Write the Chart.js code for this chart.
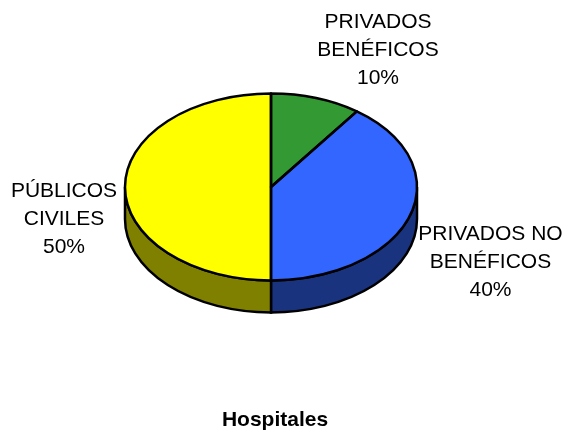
<!DOCTYPE html>
<html>
<head>
<meta charset="utf-8">
<style>body{margin:0;background:#fff}</style>
<script src="https://cdn.jsdelivr.net/npm/chart.js@4"></script>
</head>
<body>
<canvas id="c" width="567" height="432"></canvas>
<script>
var categories = ["PRIVADOS BENÉFICOS", "PRIVADOS NO BENÉFICOS", "PÚBLICOS CIVILES"];
var values = [10, 40, 50];
var labelLines = [["PRIVADOS", "BENÉFICOS", "10%"], ["PRIVADOS NO", "BENÉFICOS", "40%"], ["PÚBLICOS", "CIVILES", "50%"]];
var topColors = ["#339933", "#3366ff", "#ffff00"];
var sideColors = ["#1a4d1a", "#1a337f", "#808000"];

var squash = 0.64, depth = 32;
var labelCenters = [[378, 22], [490.5, 234], [64, 191]];

function squashed(ctx, el) {
    ctx.translate(el.x, el.y);
    ctx.scale(1, squash);
    ctx.translate(-el.x, -el.y);
}

var pie3d = {
    id: "pie3d",
    afterLayout: function(chart) {
        // title sits a little right of the pie centre
        chart.titleBlock.left += 8;
        chart.titleBlock.top += 1;
    },
    beforeDatasetDraw: function(chart) {
        var ctx = chart.ctx, arcs = chart.getDatasetMeta(0).data;
        // side wall, only the front half shows
        arcs.forEach(function(el, i) {
            var a = Math.max(el.startAngle, 0), b = Math.min(el.endAngle, Math.PI);
            if (b <= a) return;
            var ry = el.outerRadius * squash;
            ctx.beginPath();
            ctx.ellipse(el.x, el.y, el.outerRadius, ry, 0, a, b);
            ctx.ellipse(el.x, el.y + depth, el.outerRadius, ry, 0, b, a, true);
            ctx.closePath();
            ctx.fillStyle = sideColors[i];
            ctx.fill();
            ctx.lineWidth = 2.5;
            ctx.strokeStyle = "#000";
            ctx.stroke();
        });
        ctx.save();
        squashed(ctx, arcs[0]);
    },
    afterDatasetDraw: function(chart) {
        var ctx = chart.ctx, arcs = chart.getDatasetMeta(0).data;
        ctx.restore();
        // outlines here so the pen is not flattened with the slices
        arcs.forEach(function(el) {
            ctx.beginPath();
            ctx.moveTo(el.x, el.y);
            ctx.ellipse(el.x, el.y, el.outerRadius, el.outerRadius * squash, 0, el.startAngle, el.endAngle);
            ctx.closePath();
            ctx.lineWidth = 2.5;
            ctx.lineJoin = "round";
            ctx.strokeStyle = "#000";
            ctx.stroke();
        });
        ctx.font = "21px 'Liberation Sans'";
        ctx.fillStyle = "#000";
        ctx.textAlign = "center";
        ctx.textBaseline = "middle";
        labelLines.forEach(function(lines, i) {
            lines.forEach(function(t, j) {
                ctx.fillText(t, labelCenters[i][0], labelCenters[i][1] + j * 28);
            });
        });
    }
};

new Chart(document.getElementById("c").getContext("2d"), {
    type: "pie",
    data: {
        labels: categories,
        datasets: [{data: values, backgroundColor: topColors, borderWidth: 0}]
    },
    options: {
        responsive: false,
        animation: false,
        layout: {padding: {left: 125, right: 150, top: 41, bottom: 0}},
        plugins: {
            legend: {display: false},
            tooltip: {enabled: false},
            title: {
                display: true,
                position: "bottom",
                text: "Hospitales",
                color: "#000",
                font: {family: "'Liberation Sans'", size: 21, weight: "bold"},
                padding: {top: 73.8, bottom: 0}
            }
        }
    },
    plugins: [pie3d]
});
</script>
</body>
</html>
